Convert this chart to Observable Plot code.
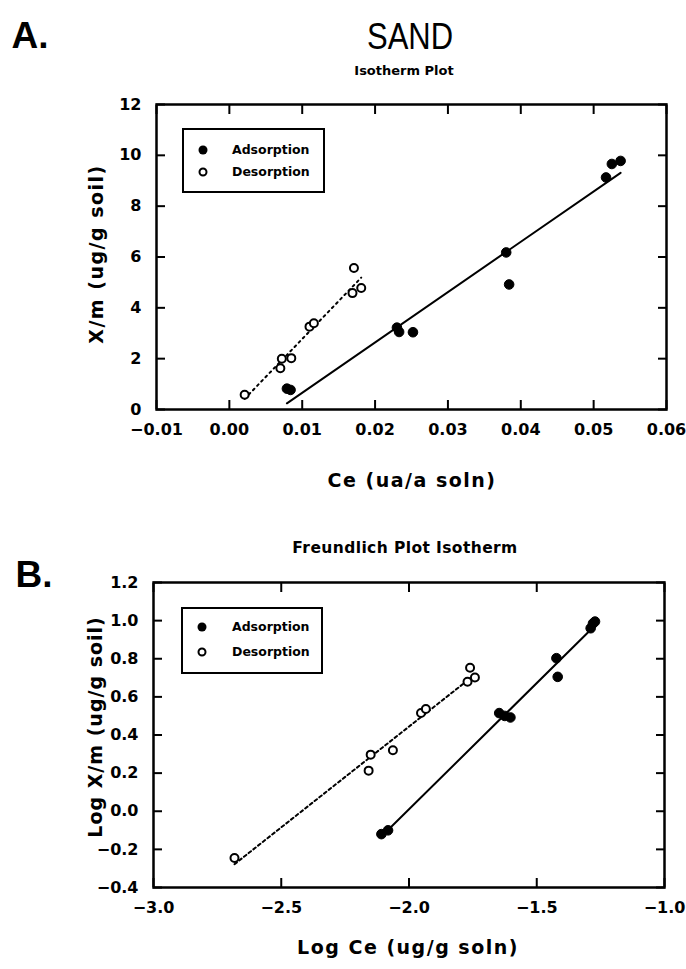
<!DOCTYPE html>
<html>
<head>
<meta charset="utf-8">
<script src="https://cdn.jsdelivr.net/npm/d3@7"></script>
<script src="https://cdn.jsdelivr.net/npm/@observablehq/plot@0.6"></script>
<style>
  body { margin: 0; background: #fff; }
  #page { position: relative; width: 686px; height: 969px; overflow: hidden; background: #fff; color: #000; }
  .t { position: absolute; white-space: nowrap; line-height: 1; transform: translate(-50%, -50%); }
  .panel { position: absolute; left: 0; }
  .legend { position: absolute; border: 2px solid #000; background: #fff; box-sizing: border-box; }
  .legend .row { position: absolute; left: 0; right: 0; height: 0; }
  .legend .sw { position: absolute; box-sizing: border-box; border-radius: 50%; transform: translate(-50%, -50%); }
  .legend .sw.fill { width: 9px; height: 9px; background: #000; }
  .legend .sw.open { width: 9px; height: 9px; border: 2px solid #000; background: #fff; }
  .legend .lab { position: absolute; transform: translateY(-50%); font: bold 12.5px "DejaVu Sans", sans-serif; line-height: 1; white-space: nowrap; }
</style>
</head>
<body>
<div id="page">
  <div class="t" style="left:30px;top:36px;font:bold 37px 'Liberation Sans',sans-serif;">A.</div>
  <div class="t" style="left:410px;top:37px;font:36px 'Liberation Sans',sans-serif;transform:translate(-50%,-50%) scaleX(0.86);">SAND</div>
  <div class="t" style="left:404px;top:70px;font:bold 13px 'DejaVu Sans',sans-serif;">Isotherm Plot</div>

  <div class="t" style="left:412px;top:480px;font:bold 19px 'DejaVu Sans',sans-serif;letter-spacing:1.5px;">Ce (ua/a soln)</div>
  <div class="t" style="left:96px;top:254px;font:bold 19px 'DejaVu Sans',sans-serif;letter-spacing:1.5px;transform:translate(-50%,-50%) rotate(-90deg);">X/m (ug/g soil)</div>

  <div class="t" style="left:405px;top:548px;font:bold 15.5px 'DejaVu Sans',sans-serif;letter-spacing:0.4px;">Freundlich Plot Isotherm</div>
  <div class="t" style="left:34px;top:575px;font:bold 37px 'Liberation Sans',sans-serif;">B.</div>

  <div class="t" style="left:408px;top:947px;font:bold 19px 'DejaVu Sans',sans-serif;letter-spacing:1.5px;">Log Ce (ug/g soln)</div>
  <div class="t" style="left:95px;top:727px;font:bold 19px 'DejaVu Sans',sans-serif;letter-spacing:1px;transform:translate(-50%,-50%) rotate(-90deg);">Log X/m (ug/g soil)</div>

  <div id="plotA" class="panel" style="top:0px;"></div>
  <div id="plotB" class="panel" style="top:500px;"></div>

  <div class="legend" style="left:182px;top:128px;width:143px;height:65px;">
    <div class="row" style="top:20px;"><span class="sw fill" style="left:19px;"></span><span class="lab" style="left:48px;">Adsorption</span></div>
    <div class="row" style="top:42px;"><span class="sw open" style="left:19px;"></span><span class="lab" style="left:48px;">Desorption</span></div>
  </div>
  <div class="legend" style="left:181px;top:607px;width:142px;height:67px;">
    <div class="row" style="top:18px;"><span class="sw fill" style="left:19px;"></span><span class="lab" style="left:49px;">Adsorption</span></div>
    <div class="row" style="top:43px;"><span class="sw open" style="left:19px;"></span><span class="lab" style="left:49px;">Desorption</span></div>
  </div>
</div>

<script>
// Sand sorption isotherm: equilibrium concentration Ce (ug/g soln) vs sorbed X/m (ug/g soil)
const adsorptionCe = [0.0079, 0.0084, 0.0230, 0.0233, 0.0252, 0.0380, 0.0384, 0.0517, 0.0525, 0.0537];
const adsorptionXm = [0.82, 0.77, 3.22, 3.05, 3.04, 6.18, 4.92, 9.13, 9.66, 9.78];
const desorptionCe = [0.0021, 0.0070, 0.0072, 0.0085, 0.0110, 0.0116, 0.0171, 0.0169, 0.0181];
const desorptionXm = [0.58, 1.62, 2.00, 2.02, 3.26, 3.39, 5.57, 4.58, 4.78];

// Freundlich form (log10 of both quantities)
const adsorptionLogCe = [-2.108, -2.082, -1.647, -1.625, -1.603, -1.423, -1.418, -1.289, -1.280, -1.272];
const adsorptionLogXm = [-0.120, -0.100, 0.515, 0.500, 0.492, 0.803, 0.705, 0.960, 0.985, 0.995];
const desorptionLogCe = [-2.683, -2.158, -2.150, -2.063, -1.953, -1.934, -1.771, -1.761, -1.742];
const desorptionLogXm = [-0.245, 0.213, 0.297, 0.320, 0.515, 0.536, 0.679, 0.753, 0.702];

// Axis ticks and their labels
const isoXTicks = [-0.01, 0.00, 0.01, 0.02, 0.03, 0.04, 0.05, 0.06];
const isoXTickLabels = ["\u22120.01", "0.00", "0.01", "0.02", "0.03", "0.04", "0.05", "0.06"];
const isoYTicks = [0, 2, 4, 6, 8, 10, 12];
const isoYTickLabels = ["0", "2", "4", "6", "8", "10", "12"];
const frXTicks = [-3.0, -2.5, -2.0, -1.5, -1.0];
const frXTickLabels = ["\u22123.0", "\u22122.5", "\u22122.0", "\u22121.5", "\u22121.0"];
const frYTicks = [-0.4, -0.2, 0.0, 0.2, 0.4, 0.6, 0.8, 1.0, 1.2];
const frYTickLabels = ["\u22120.4", "\u22120.2", "0.0", "0.2", "0.4", "0.6", "0.8", "1.0", "1.2"];

const rows = (xs, ys) => xs.map((x, i) => ({x, y: ys[i]}));

function isothermPanel({ads, des, xDomain, yDomain, xTicks, xLabels, yTicks, yLabels, height, marginTop, marginBottom, marginLeft, marginRight, dash}) {
  const xLab = new Map(xTicks.map((t, i) => [t, xLabels[i]]));
  const yLab = new Map(yTicks.map((t, i) => [t, yLabels[i]]));
  const blank = () => "";
  return Plot.plot({
    width: 686,
    height,
    marginTop, marginBottom, marginLeft, marginRight,
    style: {fontFamily: "'DejaVu Sans', sans-serif", fontSize: "16px", fontWeight: "bold", color: "#000", background: "transparent", overflow: "visible"},
    x: {domain: xDomain, label: null},
    y: {domain: yDomain, label: null},
    marks: [
      // tick labels
      Plot.axisX(xTicks, {anchor: "bottom", tickSize: 0, tickPadding: 14, tickFormat: d => xLab.get(d), label: null}),
      Plot.axisY(yTicks, {anchor: "left", tickSize: 0, tickPadding: 15, tickFormat: d => yLab.get(d), label: null}),
      // inward tick marks on all four sides
      Plot.axisX(xTicks, {anchor: "bottom", tickSize: -9, strokeWidth: 2, tickFormat: blank, label: null}),
      Plot.axisX(xTicks, {anchor: "top", tickSize: -9, strokeWidth: 2, tickFormat: blank, label: null}),
      Plot.axisY(yTicks, {anchor: "left", tickSize: -9, strokeWidth: 2, tickFormat: blank, label: null}),
      Plot.axisY(yTicks, {anchor: "right", tickSize: -9, strokeWidth: 2, tickFormat: blank, label: null}),
      // fitted lines
      Plot.linearRegressionY(ads, {x: "x", y: "y", stroke: "#000", strokeWidth: 2, ci: 0}),
      Plot.linearRegressionY(des, {x: "x", y: "y", stroke: "#000", strokeWidth: 2, strokeDasharray: dash, ci: 0}),
      // observations
      Plot.dot(ads, {x: "x", y: "y", r: 4.8, fill: "#000", stroke: "#000", strokeWidth: 1}),
      Plot.dot(des, {x: "x", y: "y", r: 4, fill: "#fff", stroke: "#000", strokeWidth: 2}),
      Plot.frame({stroke: "#000", strokeWidth: 2.5})
    ]
  });
}

document.getElementById("plotA").append(isothermPanel({
  ads: rows(adsorptionCe, adsorptionXm),
  des: rows(desorptionCe, desorptionXm),
  xDomain: [-0.01, 0.06], yDomain: [0, 12],
  xTicks: isoXTicks, xLabels: isoXTickLabels, yTicks: isoYTicks, yLabels: isoYTickLabels,
  height: 500, marginTop: 104, marginBottom: 91, marginLeft: 156, marginRight: 20,
  dash: "2,4"
}));

document.getElementById("plotB").append(isothermPanel({
  ads: rows(adsorptionLogCe, adsorptionLogXm),
  des: rows(desorptionLogCe, desorptionLogXm),
  xDomain: [-3.0, -1.0], yDomain: [-0.4, 1.2],
  xTicks: frXTicks, xLabels: frXTickLabels, yTicks: frYTicks, yLabels: frYTickLabels,
  height: 469, marginTop: 82, marginBottom: 82, marginLeft: 153, marginRight: 22,
  dash: "3,3"
}));
</script>
</body>
</html>
